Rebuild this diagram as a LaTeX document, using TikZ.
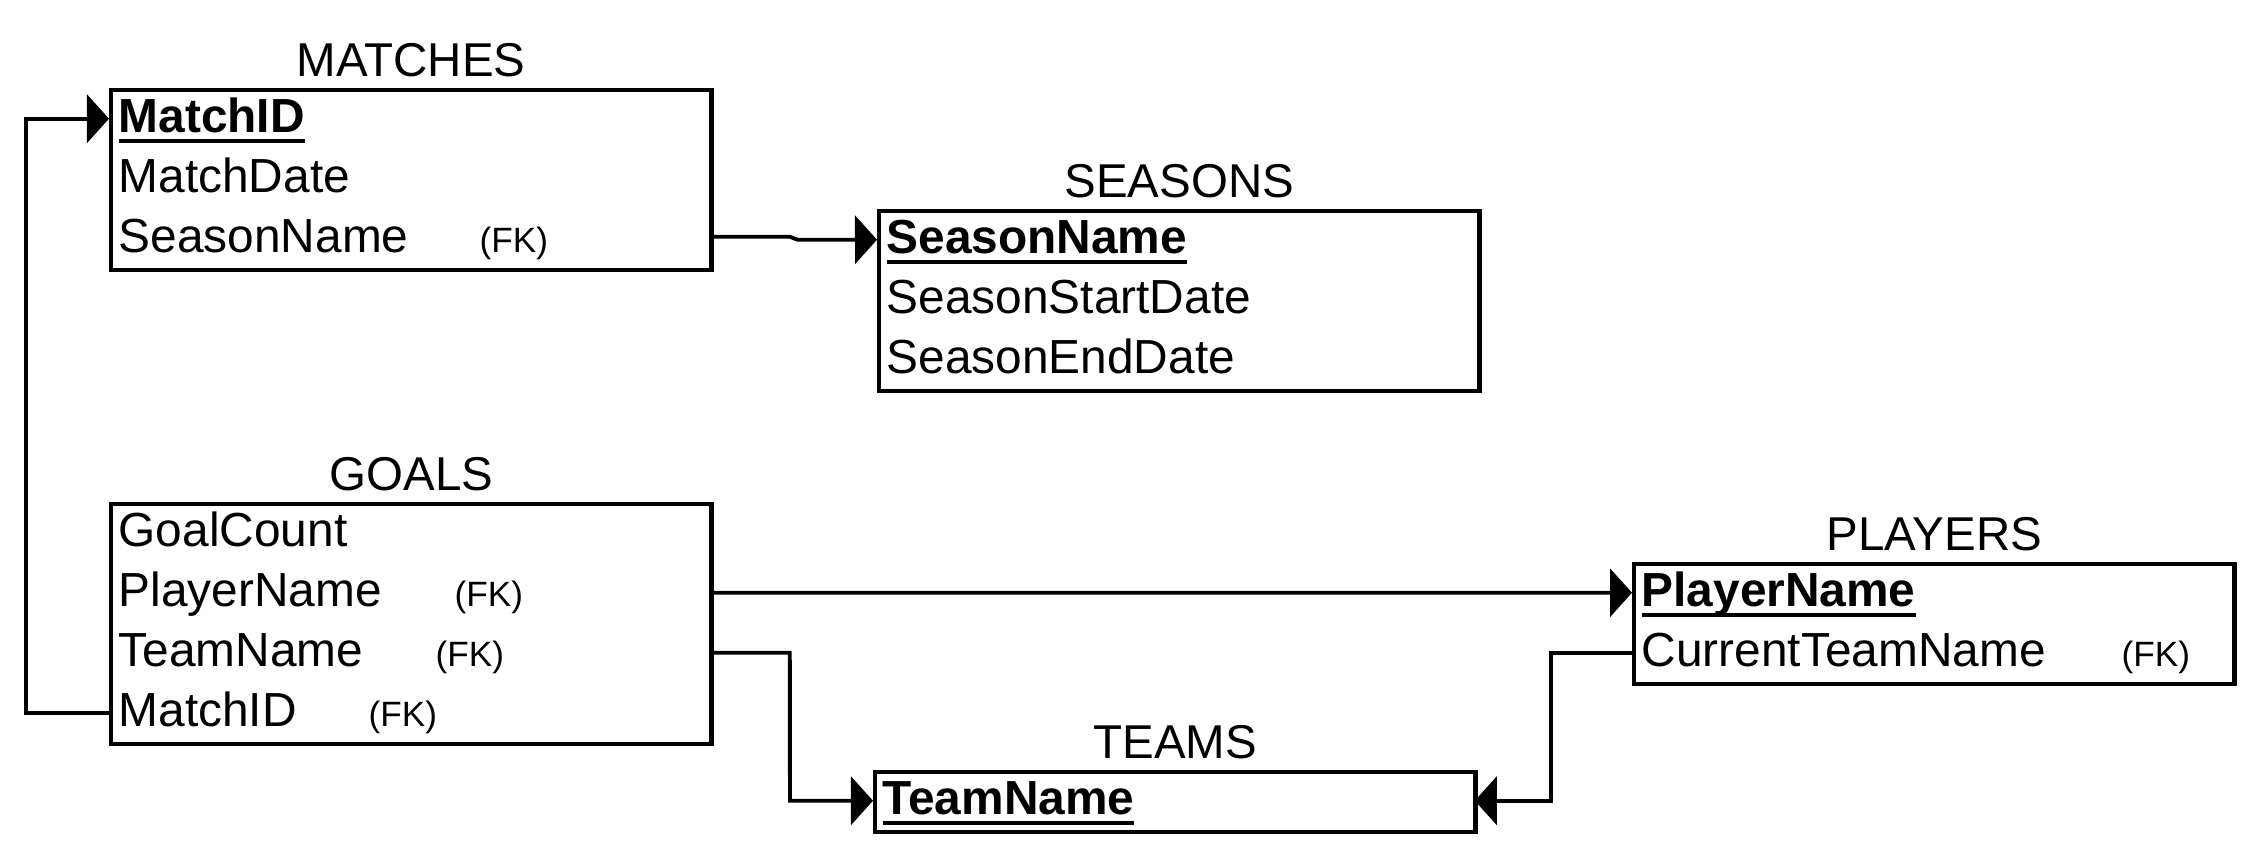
\documentclass[tikz,border=0pt]{standalone}
\usepackage{fontspec}
\setmainfont{Liberation Sans}
\usetikzlibrary{arrows.meta,positioning}

% primary key: bold and underlined
\newsavebox\pkbox
\newcommand\pkey[1]{\sbox\pkbox{\bfseries #1}\rlap{\rule[-2.8pt]{\wd\pkbox}{1.05pt}}\usebox\pkbox}

\begin{document}
\begin{tikzpicture}[x=0.01cm, y=-0.01cm,
		table/.style={draw, rectangle, line width=1.2pt, inner sep=0pt,
			minimum width=6cm, anchor=north west},
		title/.style={font=\fontsize{13.5}{16}\selectfont, anchor=base, inner sep=0pt},
		field/.style={rectangle, inner xsep=0.09cm, inner ysep=0pt, anchor=north west,
			minimum height=0.6cm, text width=5.82cm, align=left,
			text height=0.376cm, text depth=0.094cm,
			font=\fontsize{13.6}{16}\selectfont},
		fk/.style={font=\fontsize{10}{12}\selectfont, anchor=base west, inner sep=0pt},
		link/.style={line width=1.1pt, -{Triangle[length=0.22cm, width=0.48cm]}}]
	% picture size
	\useasboundingbox (0,0) rectangle (2260,858);
	% tables: name / left / top / rows / title
	\foreach \tab/\x/\y/\n/\title in {matches/109/88/3/MATCHES,
	                                 seasons/877/209/3/SEASONS,
	                                 goals/109/502/4/GOALS,
	                                 players/1632/562/2/PLAYERS,
	                                 teams/873/770/1/TEAMS}
	{
		\node[table, minimum height=\n*0.6cm] (\tab) at (\x,\y) {};
		\node[title] (\tab-title) at ([yshift=0.115cm]\tab.north) {\title};
	}
	% fields: table / row / text
	\foreach \tab/\i/\txt in {matches/1/\pkey{MatchID},
	                         matches/2/MatchDate,
	                         matches/3/SeasonName,
	                         seasons/1/\pkey{SeasonName},
	                         seasons/2/SeasonStartDate,
	                         seasons/3/SeasonEndDate,
	                         goals/1/GoalCount,
	                         goals/2/PlayerName,
	                         goals/3/TeamName,
	                         goals/4/MatchID,
	                         players/1/\pkey{PlayerName},
	                         players/2/CurrentTeamName,
	                         teams/1/\pkey{TeamName}}
	{
		\node[field] (\tab-\i) at ([yshift={-(\i-1)*0.6cm}]\tab.north west) {\txt};
	}
	% foreign key marks: table / row / offset from the left side
	\foreach \tab/\i/\dx in {matches/3/370, goals/2/345, goals/3/326, goals/4/259, players/2/489}
	{
		\node[fk] (\tab-\i-fk) at ([xshift=\dx*0.01cm]\tab-\i.base west) {(FK)};
	}
	% relations
	\draw[link] ([yshift=0.02cm]matches-3.east)  % season of a match
		-- ++(0.79cm,0)
		-- ++(0.08cm,-0.03cm)
		-- (seasons-1.west);
	\draw[link] (goals-4.west)  % match of a goal
		-- ++(-0.83cm,0)
		|- (matches-1.west);
	\draw[link] (goals-2.east)  % player of a goal
		-- (players-1.west);
	\draw[link] (goals-3.east)  % team of a goal
		-- ++(0.79cm,0)
		-- ([xshift=-0.83cm]teams-1.west)
		-- (teams-1.west);
	\draw[link] (players-2.west)  % current team of a player
		-- ++(-0.81cm,0)
		|- (teams-1.east);
\end{tikzpicture}
\end{document}
